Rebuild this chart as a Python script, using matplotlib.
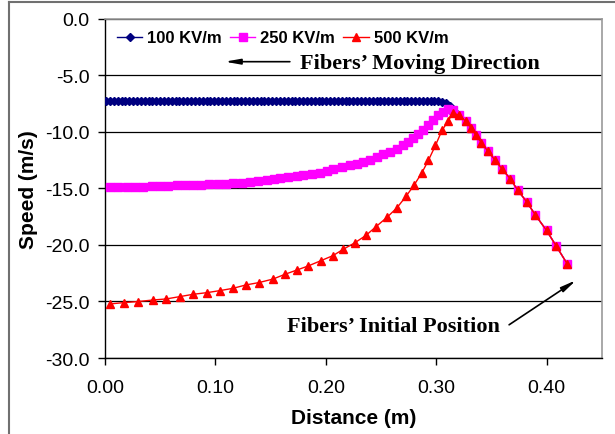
import matplotlib
matplotlib.use("Agg")
import matplotlib.pyplot as plt
from matplotlib.lines import Line2D

# ---- data ----
tail_x = [0.321, 0.327, 0.332, 0.336, 0.341, 0.347, 0.353, 0.360, 0.367,
          0.374, 0.382, 0.390, 0.400, 0.409, 0.419]
tail_y = [-8.55, -9.08, -9.67, -10.32, -10.96, -11.73, -12.46, -13.32, -14.14,
          -15.17, -16.19, -17.37, -18.72, -20.13, -21.72]

x100 = [0.0010, 0.0045, 0.0080, 0.0115, 0.0150, 0.0185, 0.0220, 0.0255, 0.0290, 0.0325,
        0.0360, 0.0395, 0.0430, 0.0465, 0.0500, 0.0535, 0.0570, 0.0605, 0.0640, 0.0675,
        0.0710, 0.0745, 0.0780, 0.0815, 0.0850, 0.0885, 0.0920, 0.0955, 0.0990, 0.1025,
        0.1060, 0.1095, 0.1130, 0.1165, 0.1200, 0.1235, 0.1270, 0.1305, 0.1340, 0.1375,
        0.1410, 0.1445, 0.1480, 0.1515, 0.1550, 0.1585, 0.1620, 0.1655, 0.1690, 0.1725,
        0.1760, 0.1795, 0.1830, 0.1865, 0.1900, 0.1935, 0.1970, 0.2005, 0.2040, 0.2075,
        0.2110, 0.2145, 0.2180, 0.2215, 0.2250, 0.2285, 0.2320, 0.2355, 0.2390, 0.2425,
        0.2460, 0.2495, 0.2530, 0.2565, 0.2600, 0.2635, 0.2670, 0.2705, 0.2740, 0.2775,
        0.2810, 0.2845, 0.2880, 0.2915, 0.2950, 0.2985, 0.3020, 0.3055,
        0.3090, 0.3125, 0.3165]
y100 = [-7.25, -7.25, -7.25, -7.25, -7.25, -7.25, -7.25, -7.25, -7.25, -7.25,
        -7.25, -7.25, -7.25, -7.25, -7.25, -7.25, -7.25, -7.25, -7.25, -7.25,
        -7.25, -7.25, -7.25, -7.25, -7.25, -7.25, -7.25, -7.25, -7.25, -7.25,
        -7.25, -7.25, -7.25, -7.25, -7.25, -7.25, -7.25, -7.25, -7.25, -7.25,
        -7.25, -7.25, -7.25, -7.25, -7.25, -7.25, -7.25, -7.25, -7.25, -7.25,
        -7.25, -7.25, -7.25, -7.25, -7.25, -7.25, -7.25, -7.25, -7.25, -7.25,
        -7.25, -7.25, -7.25, -7.25, -7.25, -7.25, -7.25, -7.25, -7.25, -7.25,
        -7.25, -7.25, -7.25, -7.25, -7.25, -7.25, -7.25, -7.25, -7.25, -7.25,
        -7.25, -7.25, -7.25, -7.27, -7.28, -7.30, -7.32, -7.35,
        -7.45, -7.75, -8.20]

x250 = [0.0045, 0.0120, 0.0197, 0.0272, 0.0347, 0.0423, 0.0498, 0.0573, 0.0649, 0.0725,
        0.0800, 0.0870, 0.0945, 0.1021, 0.1096, 0.1162, 0.1238, 0.1313, 0.1389, 0.1465,
        0.1531, 0.1585, 0.1660, 0.1736, 0.1796, 0.1872, 0.1947, 0.2008, 0.2068, 0.2144,
        0.2219, 0.2280, 0.2340, 0.2400, 0.2461, 0.2521, 0.2582, 0.2642, 0.2702, 0.2747,
        0.2793, 0.2838, 0.2883, 0.2928, 0.2974, 0.3019, 0.3064, 0.3110, 0.3155]
y250 = [-14.87, -14.87, -14.87, -14.87, -14.87, -14.78, -14.78, -14.78, -14.73, -14.66,
        -14.66, -14.66, -14.58, -14.58, -14.58, -14.49, -14.49, -14.43, -14.34, -14.29,
        -14.20, -14.07, -14.02, -13.90, -13.84, -13.70, -13.61, -13.49, -13.32, -13.14,
        -12.96, -12.81, -12.66, -12.46, -12.22, -11.99, -11.78, -11.49, -11.20, -10.90,
        -10.55, -10.17, -9.88, -9.44, -8.99, -8.55, -8.25, -8.02, -8.05]

x500 = [0.0045, 0.0172, 0.0299, 0.0435, 0.0553, 0.0679, 0.0797, 0.0924, 0.1042, 0.1159,
        0.1277, 0.1395, 0.1522, 0.1630, 0.1739, 0.1839, 0.1957, 0.2065, 0.2156, 0.2264,
        0.2364, 0.2455, 0.2554, 0.2645, 0.2726, 0.2799, 0.2871, 0.2930, 0.2994, 0.3053,
        0.3107, 0.3152]
y500 = [-25.22, -25.10, -25.01, -24.87, -24.78, -24.57, -24.37, -24.22, -24.04, -23.84,
        -23.54, -23.33, -23.02, -22.60, -22.22, -21.87, -21.39, -20.95, -20.40, -19.81,
        -19.16, -18.39, -17.57, -16.72, -15.72, -14.73, -13.62, -12.52, -11.20, -9.88,
        -9.07, -8.34]

labels = ["100 KV/m", "250 KV/m", "500 KV/m"]
xticks = [0.00, 0.10, 0.20, 0.30, 0.40]
yticks = [0.0, -5.0, -10.0, -15.0, -20.0, -25.0, -30.0]

# ---- figure ----
fig = plt.figure(figsize=(6.15, 4.35), dpi=100)
ax = fig.add_axes([0.1707, 0.1747, 0.8077, 0.7800])

sans = "Liberation Sans"
serif = "Liberation Serif"

ax.plot(x100 + tail_x, y100 + tail_y, color="#000080", lw=1.0, marker="D",
        ms=3.8, mec="#000080", mfc="#000080", label=labels[0], zorder=3)
ax.plot(x250 + tail_x, y250 + tail_y, color="#FF00FF", lw=1.0, marker="s",
        ms=5.4, mec="#FF00FF", mfc="#FF00FF", label=labels[1], zorder=4)
ax.plot(x500 + tail_x, y500 + tail_y, color="#FF0000", lw=1.0, marker="^",
        ms=6.0, mec="#FF0000", mfc="#FF0000", label=labels[2], zorder=5)

ax.set_xlim(0, 0.45)
ax.set_ylim(-30, 0)
ax.set_xticks(xticks)
ax.set_xticklabels([f"{v:.2f}" for v in xticks], fontfamily=sans, fontsize=14)
ax.set_yticks(yticks)
ax.set_yticklabels([f"{v:.1f}" for v in yticks], fontfamily=sans, fontsize=14)
ax.tick_params(axis="y", direction="out", length=5, width=1, pad=6, colors="black")
ax.tick_params(axis="x", direction="out", length=5, width=1, pad=10, colors="black")

ax.yaxis.grid(True, color="black", lw=0.9)
ax.set_axisbelow(True)
for s in ["top", "right"]:
    ax.spines[s].set_color("#999999")
    ax.spines[s].set_linewidth(1.2)
for s in ["left", "bottom"]:
    ax.spines[s].set_color("black")
    ax.spines[s].set_linewidth(1.0)

ax.set_xlabel("Distance (m)", fontfamily=sans, fontweight="bold", fontsize=15, labelpad=9)
ax.set_ylabel("Speed (m/s)", fontfamily=sans, fontweight="bold", fontsize=15, labelpad=5)

leg = ax.legend(loc="upper left", ncol=3, frameon=False,
                prop={"family": sans, "weight": "bold", "size": 12},
                handlelength=1.55, handletextpad=0.3, columnspacing=0.45,
                borderaxespad=0.3, bbox_to_anchor=(0.0, 1.0))

ax.text(0.177, -3.9, "Fibers\u2019 Moving Direction", fontfamily=serif,
        fontweight="bold", fontsize=16, va="center", ha="left")
ax.annotate("", xy=(0.106, -3.8), xytext=(0.170, -3.8),
            arrowprops=dict(arrowstyle="-|>,head_length=0.9,head_width=0.16",
                            color="black", lw=1.2))

ax.text(0.165, -27.2, "Fibers\u2019 Initial Position", fontfamily=serif,
        fontweight="bold", fontsize=16, va="center", ha="left")
ax.annotate("", xy=(0.429, -22.98), xytext=(0.364, -27.2),
            arrowprops=dict(arrowstyle="-|>,head_length=0.9,head_width=0.16",
                            color="black", lw=1.2))

# outer frame (left and top edges visible)
fig.add_artist(Line2D([8.5 / 615, 8.5 / 615], [0, 1 - 3 / 435],
                      transform=fig.transFigure, color="#707070", lw=1.5))
fig.add_artist(Line2D([8.5 / 615, 1], [1 - 3 / 435, 1 - 3 / 435],
                      transform=fig.transFigure, color="#707070", lw=1.5))

fig.savefig("out.png", dpi=100)
